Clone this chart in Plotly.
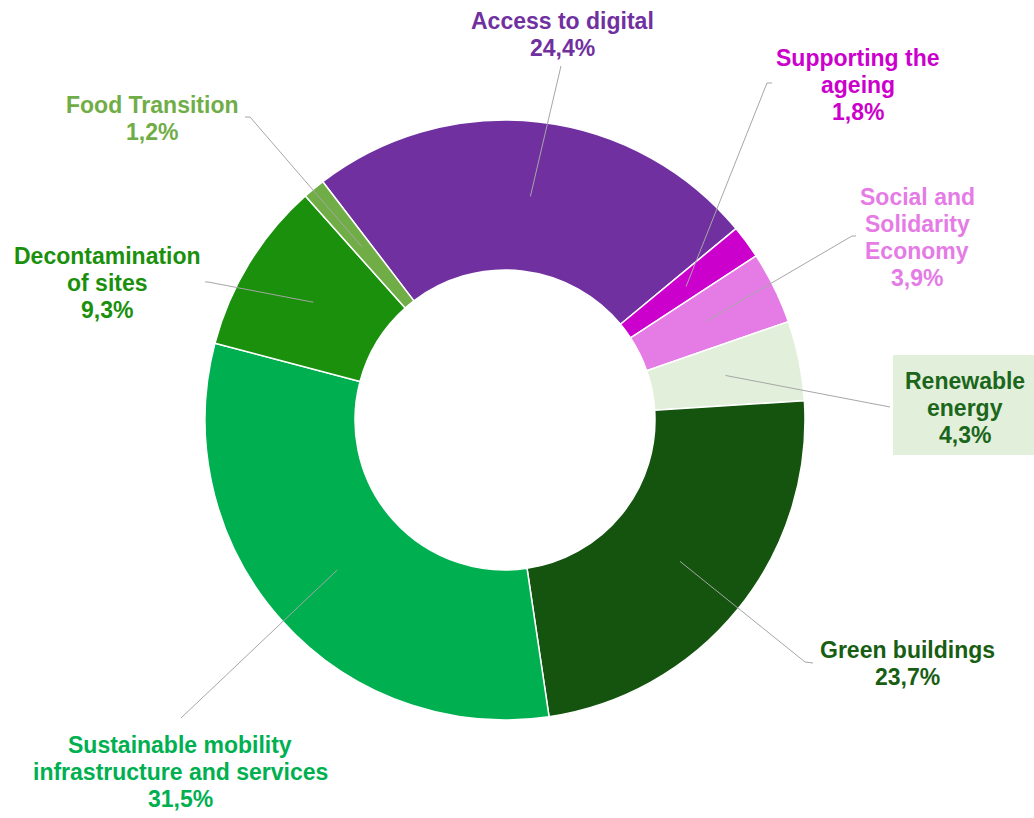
import math
import plotly.graph_objects as go

# ---- data ----
categories = ["Access to digital", "Supporting the ageing", "Social and Solidarity Economy",
              "Renewable energy", "Green buildings", "Sustainable mobility infrastructure and services",
              "Decontamination of sites", "Food Transition"]
values = [24.4, 1.8, 3.9, 4.3, 23.7, 31.5, 9.3, 1.2]
label_lines = [["Access to digital"], ["Supporting the", "ageing"], ["Social and", "Solidarity", "Economy"],
               ["Renewable", "energy"], ["Green buildings"], ["Sustainable mobility", "infrastructure and services"],
               ["Decontamination", "of sites"], ["Food Transition"]]
value_text = ["24,4%", "1,8%", "3,9%", "4,3%", "23,7%", "31,5%", "9,3%", "1,2%"]

# ---- styles / layout ----
W, H = 1034, 818
slice_colors = ["#7030A0", "#CC00CC", "#E57BE5", "#E2EFDA", "#14540E", "#00B050", "#1A900C", "#70AD47"]
text_colors = ["#7030A0", "#CC00CC", "#E57BE5", "#1B661B", "#185E12", "#00B050", "#1A900C", "#70AD47"]
ROT = -37.4
CX, CY, R = 505, 420, 300
LINE_H = 27
FONT_SIZE = 23
# label center x and first-line y (px), leader-line start points (elbow) in px
label_pos = [(562, 21), (858, 58), (917, 197), (965, 381), (907, 650), (180, 745), (107, 256), (152, 105)]
elbows = [[(561, 66)], [(772, 83), (767, 83)], [(856, 236), (852, 236)], [(890, 407)],
          [(813, 663), (805, 662)], [(181, 718)], [(205, 282), (208, 282)], [(245, 117), (250, 117)]]


def px(x):
    return x / W


def py(y):
    return 1 - y / H


fig = go.Figure(go.Pie(
    labels=categories, values=values, sort=False, direction="clockwise", rotation=ROT,
    hole=0.5, textinfo="none", hoverinfo="label+percent",
    marker=dict(colors=slice_colors, line=dict(color="white", width=1.5)),
    domain=dict(x=[px(CX - R), px(CX + R)], y=[py(CY + R), py(CY - R)]),
))

total = sum(values)
cum = 0.0
shapes = []
annotations = []
# background box for Renewable energy label
shapes.append(dict(type="rect", xref="paper", yref="paper", x0=px(893), x1=px(1034), y0=py(455), y1=py(355),
                   fillcolor="#E2EFDA", line=dict(width=0), layer="below"))
for i, v in enumerate(values):
    mid = ROT + (cum + v / 2) / total * 360
    cum += v
    a = math.radians(mid)
    tx = CX + 0.75 * R * math.sin(a)
    ty = CY - 0.75 * R * math.cos(a)
    pts = elbows[i] + [(tx, ty)]
    path = "M " + " L ".join(f"{px(x):.5f},{py(y):.5f}" for x, y in pts)
    shapes.append(dict(type="path", xref="paper", yref="paper", path=path,
                       line=dict(color="#A6A6A6", width=1)))
    lx, ly = label_pos[i]
    for j, line in enumerate(label_lines[i] + [value_text[i]]):
        annotations.append(dict(x=px(lx), y=py(ly + j * LINE_H), xref="paper", yref="paper",
                                text=f"<b>{line}</b>", showarrow=False,
                                xanchor="center", yanchor="middle", align="center",
                                font=dict(family="Liberation Sans, Arial, sans-serif", size=FONT_SIZE,
                                          color=text_colors[i])))

fig.update_layout(width=W, height=H, margin=dict(l=0, r=0, t=0, b=0), autosize=False,
                  showlegend=False, paper_bgcolor="white", plot_bgcolor="white",
                  shapes=shapes, annotations=annotations)
fig.write_html("out.html", config={"displayModeBar": False},
               post_script="document.body.style.margin='0px';")
